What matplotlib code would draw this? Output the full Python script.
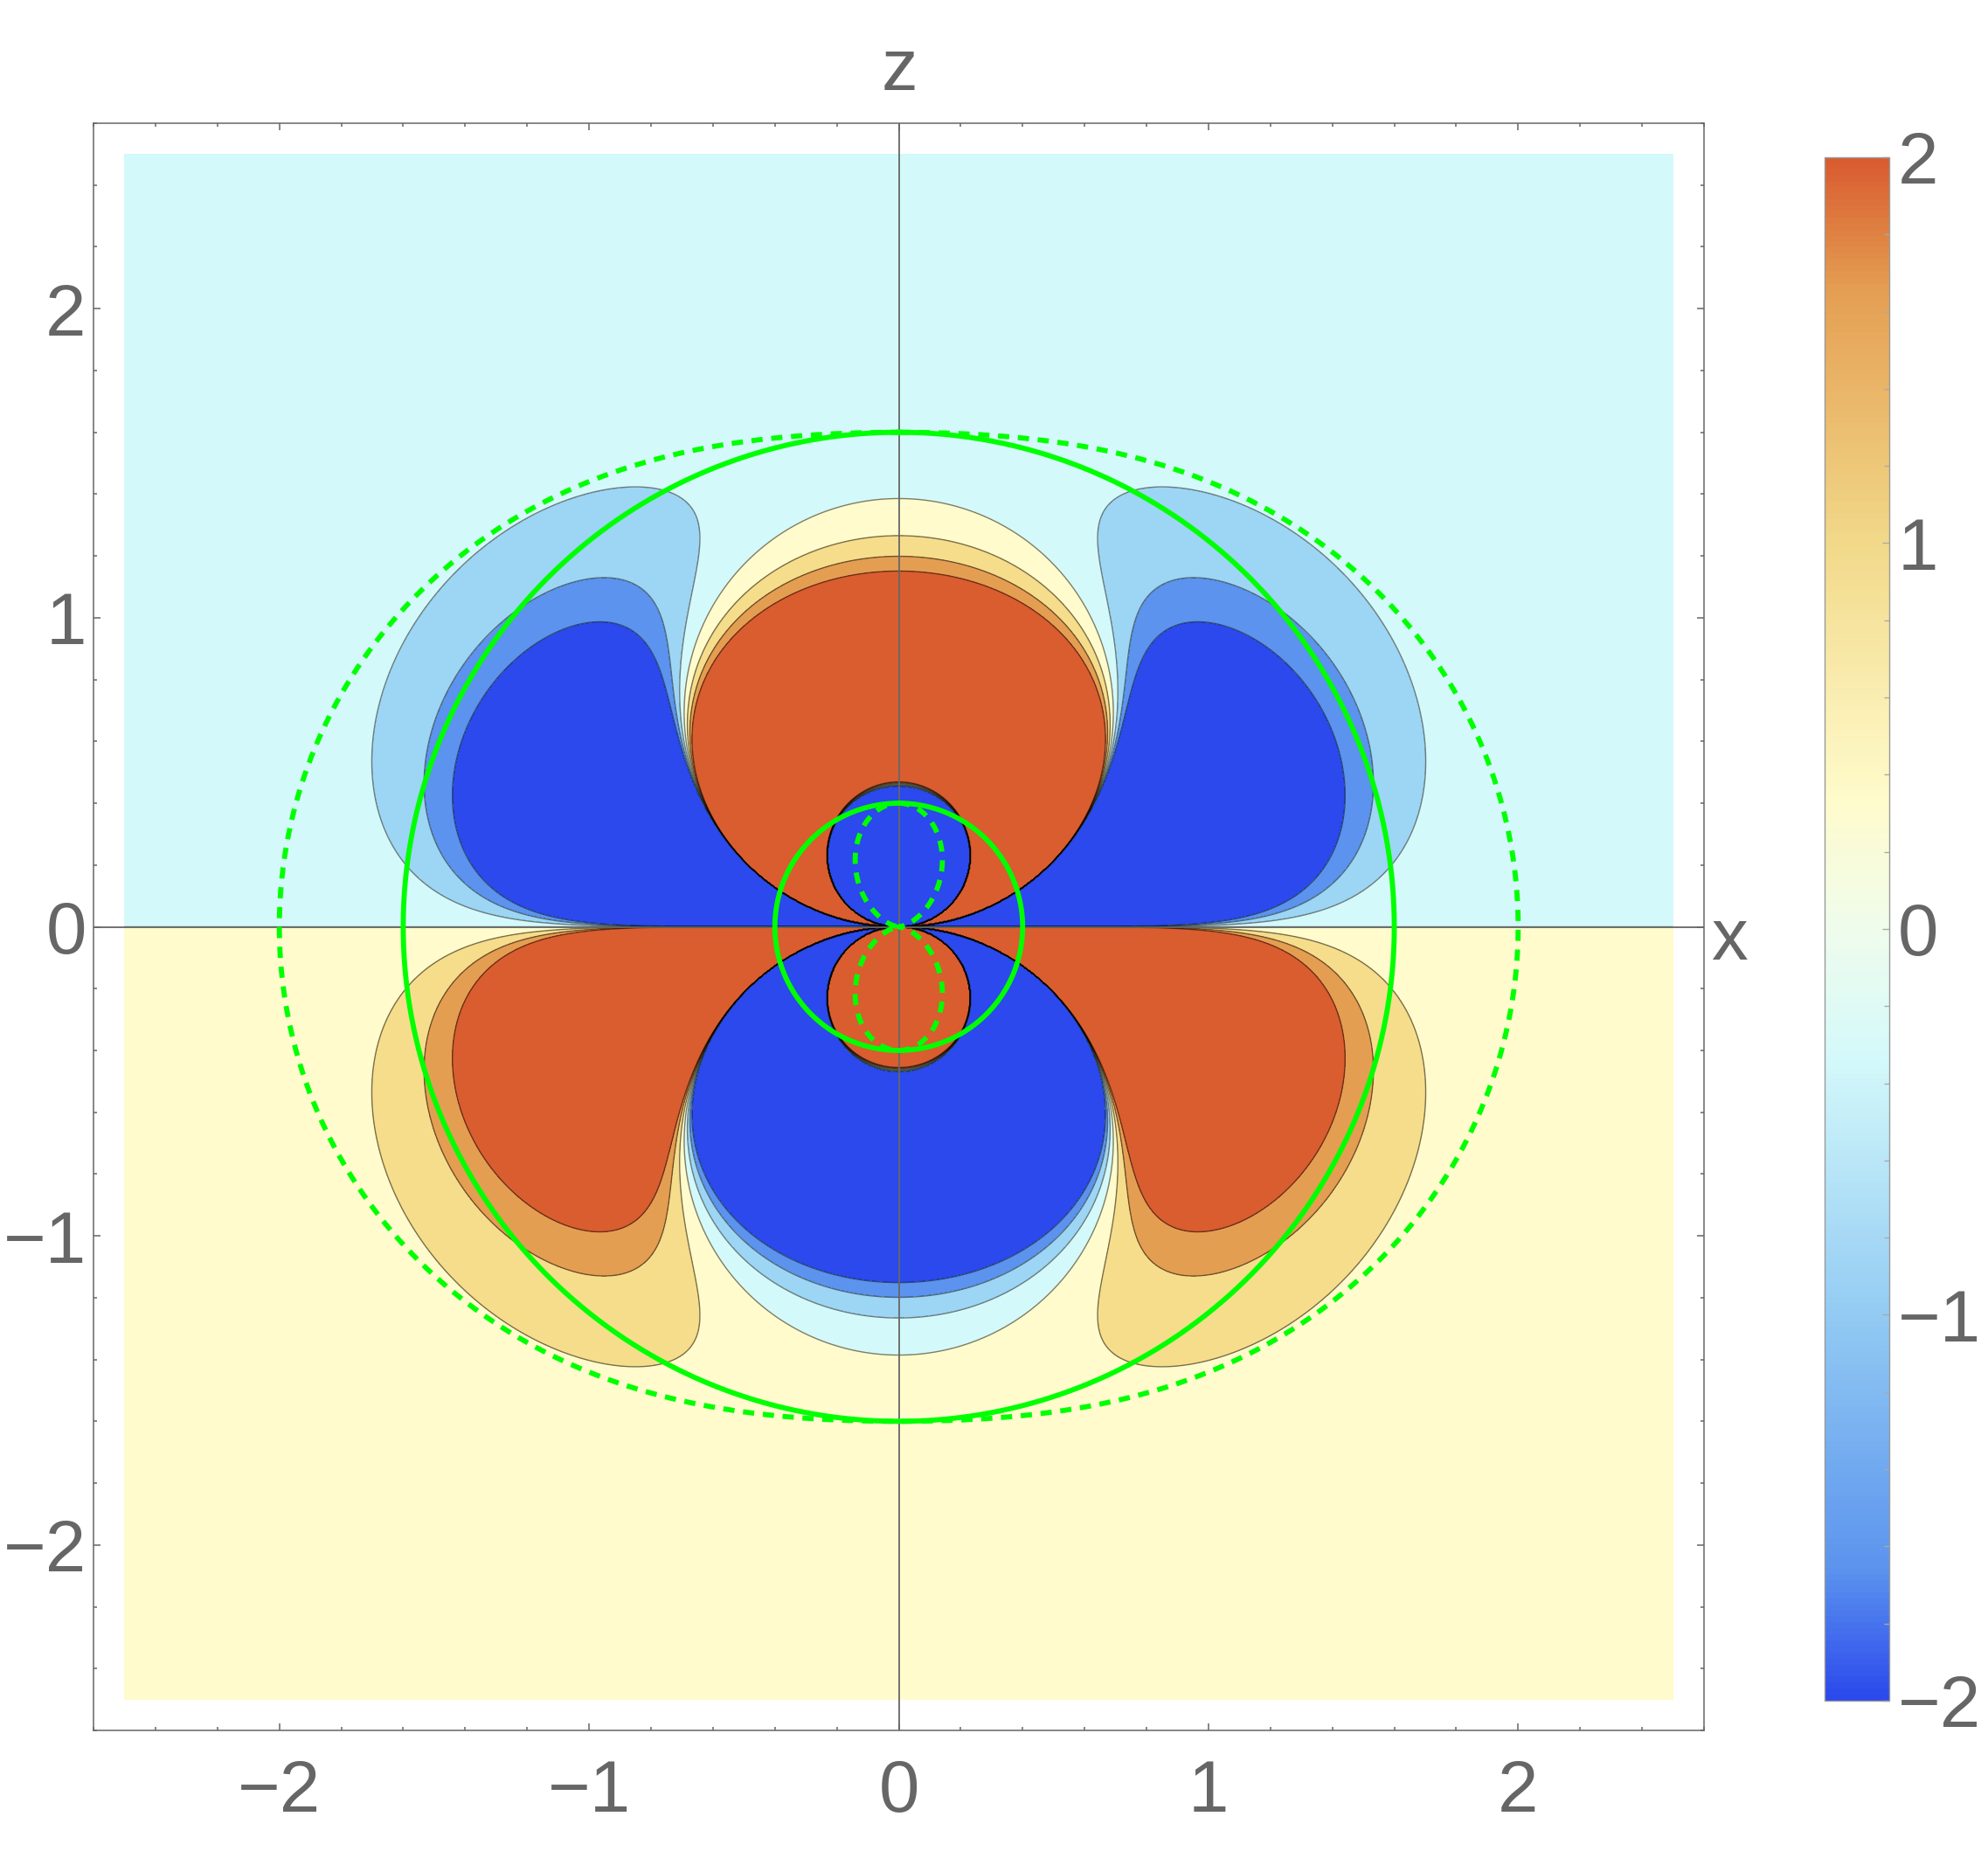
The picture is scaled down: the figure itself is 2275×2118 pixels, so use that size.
import numpy as np
import matplotlib.pyplot as plt
from matplotlib.colors import LinearSegmentedColormap, Normalize
from matplotlib.cm import ScalarMappable
from matplotlib.ticker import MultipleLocator

plt.rcParams['font.family'] = ['Liberation Sans', 'DejaVu Sans']

# Kerr parameters (M = 1, a = 0.8) and plot scale
mass = 1.0
spin = 0.8
amp = 63.0

# contour levels, ticks
levels = [-2, -4/3, -2/3, 0, 2/3, 4/3, 2]
fill_levels = [-3.5] + levels + [3.5]
axis_ticks = [-2, -1, 0, 1, 2]
cb_ticks = [-2, -1, 0, 1, 2]
plot_half = 2.5
view_half = 2.6

# colour of each band, lowest first
band_colors = ['#2B49EC', '#5B93EE', '#9DD5F5', '#D4F9FA',
               '#FFFBCC', '#F5DD8C', '#E49E52', '#D95D2F']
cmap_vals = [-2, -5/3, -1, -1/3, 0, 1/3, 1, 5/3, 2]
cmap_cols = ['#2B49EC', '#5B93EE', '#93CBF3', '#D4F9FA', '#EFFCEC',
             '#FFFBCC', '#F2D98A', '#E49E52', '#D95B2F']

grey = '#666666'
green = '#00FF00'

# field
n = 1800
xs = np.linspace(-plot_half, plot_half, n)
X, Z = np.meshgrid(xs, xs)
R2 = X**2 + Z**2
A2Z2 = spin**2 * Z**2
F = amp * spin * Z * (3*R2**2 - A2Z2) * (3*A2Z2 - R2**2) * R2**4 / (R2**2 + A2Z2)**6
F = np.clip(F, -3, 3)

fig = plt.figure(figsize=(22.75, 21.18), dpi=100)
ax = fig.add_axes([107/2275, 1 - 1980/2118, 1843/2275, 1839/2118])

ax.contourf(X, Z, F, levels=fill_levels, colors=band_colors, zorder=1)
ax.contour(X, Z, F, levels=levels, colors='k', linewidths=1.0, alpha=0.5,
           negative_linestyles='solid', zorder=2)

ax.axhline(0, color=grey, lw=1.3, zorder=3)
ax.axvline(0, color=grey, lw=1.3, zorder=3)

# horizons and ergosurfaces
th = np.linspace(0, 2*np.pi, 1500)
root = np.sqrt(mass**2 - spin**2)
r_plus = mass + root
r_minus = mass - root
erg_out = mass + np.sqrt(mass**2 - spin**2 * np.cos(th)**2)
erg_in = mass - np.sqrt(mass**2 - spin**2 * np.cos(th)**2)
for r in [r_plus, r_minus]:
    ax.plot(r*np.sin(th), r*np.cos(th), color=green, lw=4.2, zorder=4)
for r in [erg_out, erg_in]:
    ax.plot(r*np.sin(th), r*np.cos(th), color=green, lw=4.2,
            ls=(0, (2.2, 1.7)), zorder=4)

ax.set_xlim(-view_half, view_half)
ax.set_ylim(-view_half, view_half)
ax.set_xticks(axis_ticks)
ax.set_yticks(axis_ticks)
ax.xaxis.set_minor_locator(MultipleLocator(0.2))
ax.yaxis.set_minor_locator(MultipleLocator(0.2))
ax.tick_params(which='both', direction='in', top=True, right=True, color=grey, width=1.1)
ax.tick_params(which='major', length=6)
ax.tick_params(which='minor', length=3)
ax.tick_params(axis='x', labelsize=60, labelcolor=grey, pad=23)
ax.tick_params(axis='y', labelsize=60, labelcolor=grey, pad=6)
for s in ax.spines.values():
    s.set_color(grey)
    s.set_linewidth(1.1)

fig.text(1029/2275, 1 - 103/2118, 'z', ha='center', va='baseline', fontsize=60, color=grey)
fig.text(1958/2275, 1 - 1098/2118, 'x', ha='left', va='baseline', fontsize=60, color=grey)

# colour bar
cmap = LinearSegmentedColormap.from_list(
    'temp', [((v + 2) / 4, c) for v, c in zip(cmap_vals, cmap_cols)])
cax = fig.add_axes([2088/2275, 1 - 1946/2118, 74/2275, 1766/2118])
cb = fig.colorbar(ScalarMappable(norm=Normalize(-2, 2), cmap=cmap), cax=cax, ticks=cb_ticks)
cb.outline.set_edgecolor('#999999')
cb.outline.set_linewidth(1.0)
cax.yaxis.set_minor_locator(MultipleLocator(0.2))
cax.tick_params(which='both', direction='in', color='#aaaaaa', width=1)
cax.tick_params(which='major', length=6, labelsize=60, labelcolor=grey, pad=7)
cax.tick_params(which='minor', length=4)

fig.savefig('out.png', dpi=100)
